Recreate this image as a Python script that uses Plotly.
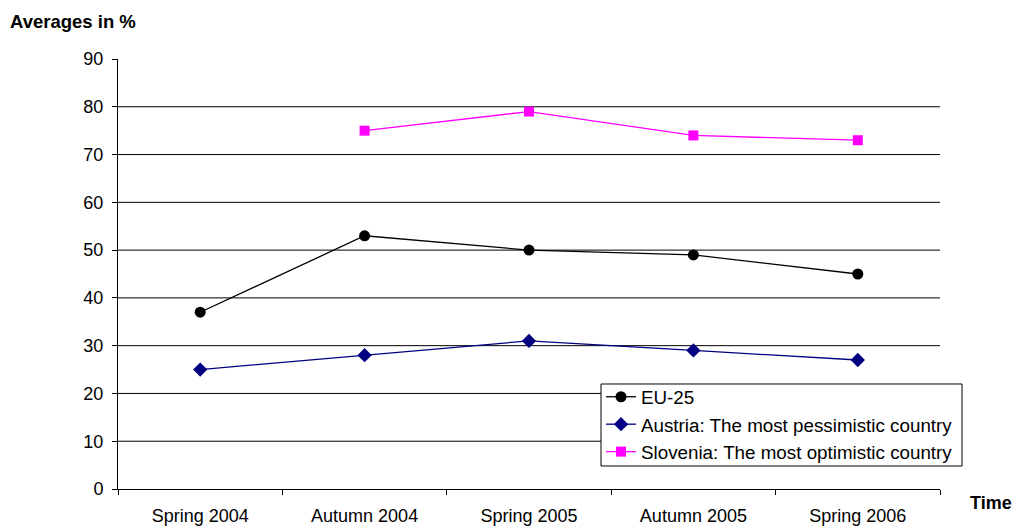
import plotly.graph_objects as go

periods = ["Spring 2004", "Autumn 2004", "Spring 2005", "Autumn 2005", "Spring 2006"]
eu25 = [37, 53, 50, 49, 45]
austria = [25, 28, 31, 29, 27]
slovenia = [None, 75, 79, 74, 73]
y_ticks = [0, 10, 20, 30, 40, 50, 60, 70, 80, 90]

FONT = "Liberation Sans, Arial, sans-serif"
FS = 18

fig = go.Figure()
fig.add_trace(go.Scatter(
    x=periods, y=eu25, name="EU-25", mode="lines+markers",
    line=dict(color="black", width=1.3),
    marker=dict(symbol="circle", size=11, color="black"),
))
fig.add_trace(go.Scatter(
    x=periods, y=austria, name="Austria: The most pessimistic country",
    mode="lines+markers",
    line=dict(color="#000080", width=1.3),
    marker=dict(symbol="diamond", size=11, color="#000080"),
))
fig.add_trace(go.Scatter(
    x=periods, y=slovenia, name="Slovenia: The most optimistic country",
    mode="lines+markers",
    line=dict(color="#FF00FF", width=1.3),
    marker=dict(symbol="square", size=10, color="#FF00FF"),
))

# horizontal gridlines (the top one is left out)
shapes = [
    dict(type="line", xref="paper", yref="y", x0=0, x1=1, y0=v, y1=v,
         line=dict(color="black", width=1), layer="below")
    for v in y_ticks[1:-1]
]
# tight frame behind the legend entries
shapes.append(dict(
    type="rect", xref="paper", yref="paper",
    x0=0.5876, x1=1.0268, y0=0.0535, y1=0.2442,
    line=dict(color="black", width=1), fillcolor="white", layer="above",
))

fig.update_layout(
    width=1012, height=526,
    margin=dict(l=118, r=72, t=59, b=37, autoexpand=False),
    paper_bgcolor="white", plot_bgcolor="white",
    font=dict(family=FONT, size=FS, color="black"),
    shapes=shapes,
    showlegend=True,
    legend=dict(
        x=0.5876, y=0.2581, xanchor="left", yanchor="top",
        bgcolor="rgba(0,0,0,0)", borderwidth=0,
        font=dict(family=FONT, size=18.8, color="black"),
        itemwidth=30,
    ),
    xaxis=dict(
        type="category", categoryorder="array", categoryarray=periods,
        range=[-0.5, 4.5], automargin=False,
        showline=True, linecolor="black", linewidth=1,
        ticks="outside", tickson="boundaries", ticklen=5, tickcolor="black",
        showgrid=False, zeroline=False,
        tickfont=dict(family=FONT, size=FS),
        ticklabelstandoff=10,
    ),
    yaxis=dict(
        range=[0, 90], tickvals=y_ticks, automargin=False,
        showline=True, linecolor="black", linewidth=1,
        ticks="outside", ticklen=5, tickcolor="black",
        showgrid=False, zeroline=False,
        tickfont=dict(family=FONT, size=FS),
        ticklabelstandoff=5,
    ),
    annotations=[
        dict(text="<b>Averages in %</b>", xref="paper", yref="paper",
             x=-110 / 822, y=(489 - 22) / 430, xanchor="left", yanchor="middle",
             showarrow=False, font=dict(family=FONT, size=18.5)),
        dict(text="<b>Time</b>", xref="paper", yref="paper",
             x=(968 - 118) / 822, y=(489 - 503) / 430, xanchor="left", yanchor="middle",
             showarrow=False, font=dict(family=FONT, size=18)),
    ],
)

fig.write_html("out.html")
